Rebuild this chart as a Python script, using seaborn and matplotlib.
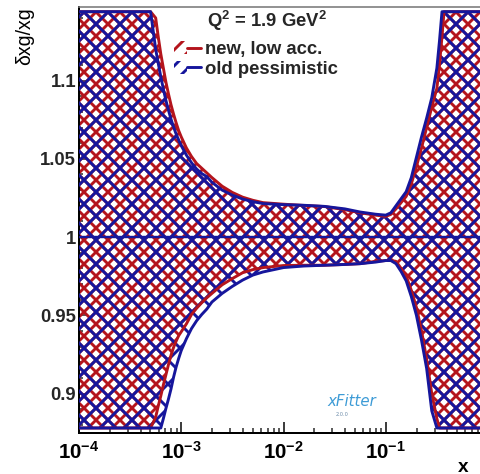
import numpy as np
import pandas as pd
import matplotlib
matplotlib.use("Agg")
import matplotlib.pyplot as plt
import seaborn as sns
from matplotlib.patches import Patch
from matplotlib.lines import Line2D
from matplotlib.legend_handler import HandlerTuple
from matplotlib.ticker import FixedLocator, FixedFormatter, LogLocator, NullFormatter, MultipleLocator

# ---------------- data ----------------
log_x = [-4.0, -3.3, -3.25, -3.225, -3.2, -3.175, -3.15, -3.125, -3.1, -3.075, -3.05, -3.025,
         -3.0, -2.95, -2.9, -2.85, -2.8, -2.75, -2.7, -2.6, -2.5, -2.4, -2.3, -2.2, -2.0,
         -1.8, -1.6, -1.4, -1.25, -1.1, -1.0, -0.95, -0.9, -0.85, -0.8, -0.75, -0.7, -0.65,
         -0.6, -0.55, -0.5, -0.475, -0.45, -0.43, -0.4, 0.0]

# "new, low acc." band (visible part, clipped at the frame)
red_up = [1.144, 1.144, 1.140, 1.128, 1.117, 1.108, 1.099, 1.0915, 1.0845, 1.0785, 1.073, 1.068,
          1.064, 1.057, 1.0515, 1.047, 1.044, 1.041, 1.038, 1.0325, 1.0285, 1.0255, 1.0235, 1.022, 1.021,
          1.0202, 1.0195, 1.0175, 1.0155, 1.014, 1.0132, 1.0145, 1.018, 1.022, 1.026, 1.034, 1.045, 1.057,
          1.070, 1.083, 1.095, 1.110, 1.128, 1.144, 1.144, 1.144]
red_lo = [0.878, 0.878, 0.885, 0.892, 0.8985, 0.9055, 0.912, 0.9185, 0.9245, 0.9295, 0.9335, 0.937,
          0.9395, 0.9445, 0.9505, 0.9545, 0.958, 0.9612, 0.964, 0.9695, 0.9735, 0.9772, 0.9792, 0.9805, 0.9818,
          0.982, 0.982, 0.9825, 0.983, 0.9845, 0.985, 0.985, 0.9845, 0.980, 0.975, 0.966, 0.955, 0.940,
          0.922, 0.900, 0.884, 0.878, 0.878, 0.878, 0.878, 0.878]

# "old pessimistic" band
blue_up = [1.144, 1.144, 1.120, 1.111, 1.1025, 1.0945, 1.0873, 1.081, 1.0753, 1.0703, 1.0658, 1.062,
           1.0584, 1.0524, 1.0475, 1.0435, 1.0406, 1.0386, 1.035, 1.030, 1.0268, 1.0243, 1.0226, 1.0214, 1.0207,
           1.0203, 1.0196, 1.018, 1.016, 1.0146, 1.014, 1.0155, 1.020, 1.0245, 1.029, 1.038, 1.051, 1.064,
           1.076, 1.089, 1.108, 1.125, 1.144, 1.144, 1.144, 1.144]
blue_lo = [0.878, 0.878, 0.878, 0.878, 0.878, 0.884, 0.8905, 0.8965, 0.903, 0.9105, 0.917, 0.9225,
           0.9275, 0.935, 0.9415, 0.9465, 0.9505, 0.954, 0.9585, 0.964, 0.9685, 0.9725, 0.9757, 0.9777, 0.9805,
           0.9815, 0.982, 0.9825, 0.983, 0.984, 0.985, 0.985, 0.983, 0.978, 0.972, 0.962, 0.950, 0.934,
           0.916, 0.889, 0.878, 0.878, 0.878, 0.878, 0.878, 0.878]

central_value = 1.0

series_labels = ["new, low acc.", "old pessimistic"]
title_text = "$Q^2$ = 1.9 GeV$^2$"

x_ticks = [1e-4, 1e-3, 1e-2, 1e-1]
x_tick_labels = ["$10^{-4}$", "$10^{-3}$", "$10^{-2}$", "$10^{-1}$"]
y_ticks = [0.9, 0.95, 1.0, 1.05, 1.1]
y_tick_labels = ["0.9", "0.95", "1", "1.05", "1.1"]

# ---------------- style ----------------
RED = "#b4141c"
BLUE = "#16169c"
DPI = 144
PX = 72.0 / DPI   # points per pixel

sns.set_style("ticks")
plt.rcParams["font.family"] = ["Liberation Sans", "DejaVu Sans"]
plt.rcParams["mathtext.fontset"] = "custom"
plt.rcParams["mathtext.rm"] = "Liberation Sans:bold"
plt.rcParams["mathtext.bf"] = "Liberation Sans:bold"
plt.rcParams["mathtext.it"] = "Liberation Sans:bold"
plt.rcParams["mathtext.default"] = "bf"
plt.rcParams["hatch.linewidth"] = 2.9 * PX

W, H = 480, 474
fig = plt.figure(figsize=(W / DPI, H / DPI), dpi=DPI)
fig.patch.set_facecolor("white")
ax_l, ax_r, ax_t, ax_b = 79, 488, 7, 433
ax = fig.add_axes([ax_l / W, 1 - ax_b / H, (ax_r - ax_l) / W, (ax_b - ax_t) / H])
ax.set_facecolor("white")

x = 10 ** np.array(log_x)
df = pd.DataFrame({"x": x, "red_up": red_up, "red_lo": red_lo,
                   "blue_up": blue_up, "blue_lo": blue_lo})
df["central"] = central_value
long = df.melt(id_vars="x", var_name="curve", value_name="y")

# hatched bands (red hatch at half the blue spacing; blue drawn on top)
with plt.rc_context({"hatch.color": RED}):
    ax.fill_between(df["x"], df["red_lo"], df["red_up"], facecolor="none",
                    edgecolor=RED, hatch="xxxx", linewidth=0, zorder=2)
with plt.rc_context({"hatch.color": BLUE}):
    ax.fill_between(df["x"], df["blue_lo"], df["blue_up"], facecolor="none",
                    edgecolor=BLUE, hatch="xx", linewidth=0, zorder=3)

# boundary lines
lw = 2.9 * PX
sns.lineplot(data=long[long["curve"].isin(["red_up", "red_lo"])], x="x", y="y",
             units="curve", estimator=None, color=RED, lw=lw, ax=ax, zorder=4, sort=False)
sns.lineplot(data=long[long["curve"].isin(["blue_up", "blue_lo"])], x="x", y="y",
             units="curve", estimator=None, color=BLUE, lw=lw, ax=ax, zorder=5, sort=False)
sns.lineplot(data=long[long["curve"] == "central"], x="x", y="y", estimator=None,
             color=BLUE, lw=2.4 * PX, ax=ax, zorder=6, sort=False)

ax.set_xscale("log")
ax.set_xlim(1e-4, 1.0)
ax.set_ylim(0.8748, 1.147)
ax.set_xlabel("")
ax.set_ylabel("")

ax.xaxis.set_major_locator(FixedLocator(x_ticks))
ax.xaxis.set_major_formatter(FixedFormatter(x_tick_labels))
ax.xaxis.set_minor_locator(LogLocator(base=10, subs=np.arange(2, 10), numticks=20))
ax.xaxis.set_minor_formatter(NullFormatter())
ax.yaxis.set_major_locator(FixedLocator(y_ticks))
ax.yaxis.set_major_formatter(FixedFormatter(y_tick_labels))
ax.yaxis.set_minor_locator(MultipleLocator(0.01))

tick_font = 18.5 * PX
ax.tick_params(axis="x", which="major", direction="in", length=11 * PX, width=1.5 * PX,
               labelsize=20.5 * PX, pad=8 * PX, colors="black")
ax.tick_params(axis="x", which="minor", direction="in", length=5.5 * PX, width=1.5 * PX)
ax.tick_params(axis="y", which="major", direction="in", length=8 * PX, width=1.5 * PX,
               labelsize=tick_font, pad=3 * PX)
ax.tick_params(axis="y", which="minor", direction="in", length=4 * PX, width=1.5 * PX)
for lab in ax.get_xticklabels() + ax.get_yticklabels():
    lab.set_fontweight("bold")

for s in ["left", "bottom"]:
    ax.spines[s].set_linewidth(2 * PX)
    ax.spines[s].set_color("black")
ax.spines["top"].set_linewidth(1.6 * PX)
ax.spines["top"].set_color("#7a7a7a")
ax.spines["right"].set_visible(False)

# axis titles
fig.text(25 / W, 1 - 7 / H, "δxg/xg", rotation=90, ha="center", va="top",
         fontsize=19.5 * PX, color="black")
fig.text(468 / W, 1 - 467 / H, "x", ha="right", va="center",
         fontsize=19 * PX, fontweight="bold", color="black")

# legend
fig.text(267 / W, 1 - 21 / H, title_text, ha="center", va="center",
         fontsize=18.5 * PX, fontweight="bold")
handles = [
    (Patch(facecolor="none", edgecolor=RED, hatch="///", linewidth=0),
     Line2D([], [], color=RED, lw=lw)),
    (Patch(facecolor="none", edgecolor=BLUE, hatch="///", linewidth=0),
     Line2D([], [], color=BLUE, lw=lw)),
]
leg = ax.legend(handles=handles, labels=series_labels,
                handler_map={tuple: HandlerTuple(ndivide=None)},
                loc="upper left", bbox_to_anchor=(174 / W, 1 - 41 / H),
                bbox_transform=fig.transFigure, frameon=False, borderpad=0,
                borderaxespad=0, handlelength=1.45, handleheight=0.7,
                handletextpad=0.2, labelspacing=0.15,
                prop={"family": "Liberation Sans", "weight": "bold", "size": 18.5 * PX})

# xFitter logo text
fig.text(352 / W, 1 - 401 / H, "xFitter", ha="center", va="center", fontsize=15 * PX,
         style="italic", color="#3d9bd6", family="DejaVu Sans")
fig.text(342 / W, 1 - 415 / H, "2.0.0", ha="center", va="center", fontsize=5 * PX,
         color="#6a8aa8", family="DejaVu Sans")

fig.savefig("out.png", dpi=DPI, facecolor="white")
